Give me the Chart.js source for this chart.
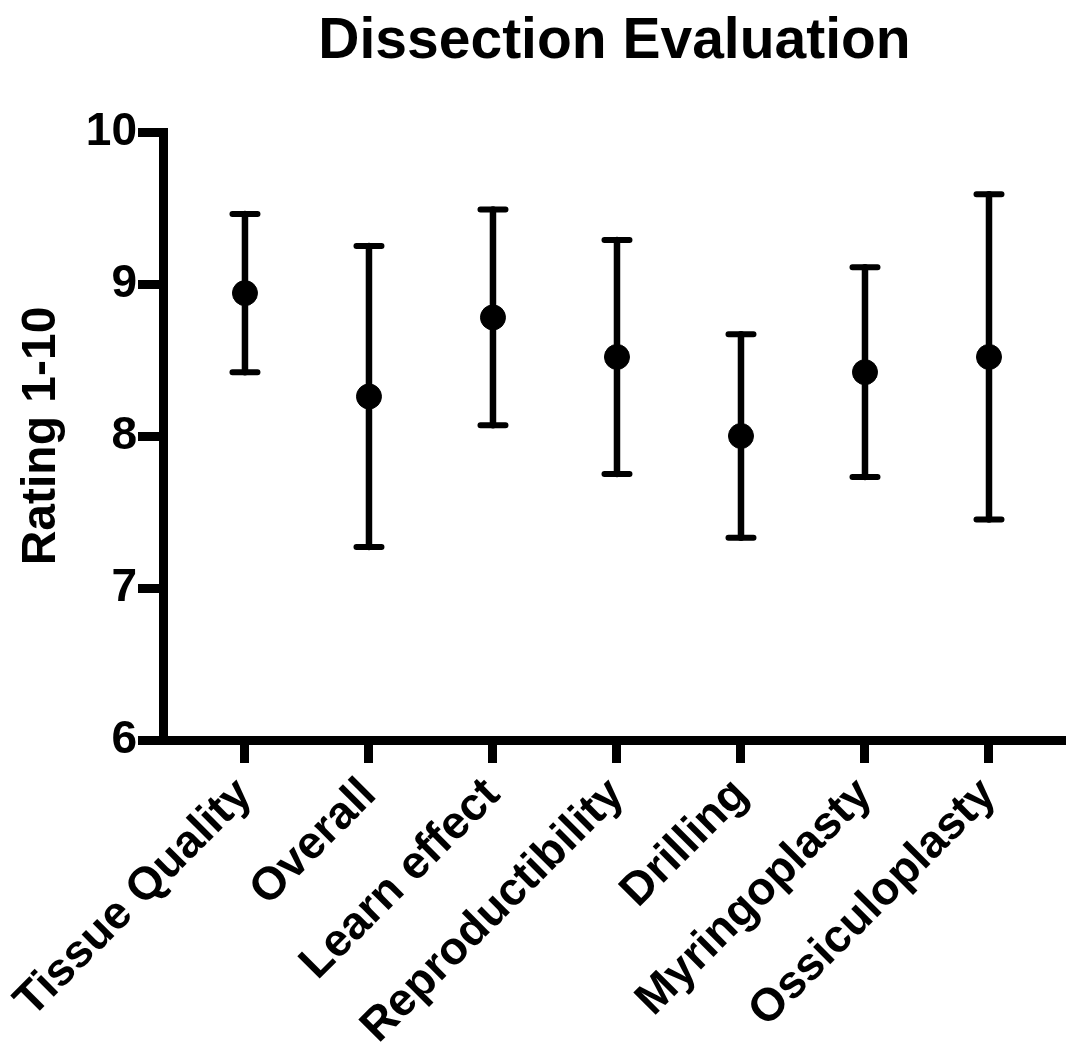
<!DOCTYPE html>
<html>
<head>
<meta charset="utf-8">
<title>Dissection Evaluation</title>
<script src="https://cdn.jsdelivr.net/npm/chart.js@4"></script>
<style>
  html, body { margin: 0; padding: 0; background: #fff; }
  #wrap { width: 1066px; height: 1046px; }
</style>
</head>
<body>
<div id="wrap"><canvas id="dissection"></canvas></div>
<script>
// ---- data (mean +/- SD, rating 1-10) ----
const categories = ['Tissue Quality', 'Overall', 'Learn effect', 'Reproductibility', 'Drilling', 'Myringoplasty', 'Ossiculoplasty'];
const means = [8.94, 8.26, 8.78, 8.52, 8.00, 8.42, 8.52];
const sds   = [0.52, 0.99, 0.71, 0.77, 0.67, 0.69, 1.07];
const yTicks = [6, 7, 8, 9, 10];

const FONT = "'Liberation Sans', Arial, Helvetica, sans-serif";

// error bars: drawn from the scales, behind the dots
const errorBars = {
    id: 'errorBars',
    beforeDatasetsDraw(chart) {
        const { ctx, scales: { x, y } } = chart;
        ctx.save();
        ctx.strokeStyle = '#000';
        ctx.lineCap = 'round';
        means.forEach((m, i) => {
            const px = x.getPixelForValue(i);
            const top = y.getPixelForValue(m + sds[i]);
            const bot = y.getPixelForValue(m - sds[i]);
            ctx.lineWidth = 6.5;
            ctx.beginPath();
            ctx.moveTo(px, top);
            ctx.lineTo(px, bot);
            ctx.stroke();
            ctx.lineWidth = 6;
            ctx.beginPath();
            ctx.moveTo(px - 12.5, top);
            ctx.lineTo(px + 12.5, top);
            ctx.moveTo(px - 12.5, bot);
            ctx.lineTo(px + 12.5, bot);
            ctx.stroke();
        });
        ctx.restore();
    }
};

new Chart(document.getElementById('dissection'), {
    type: 'scatter',
    data: {
        datasets: [{
            data: means.map((m, i) => ({ x: i, y: m })),
            backgroundColor: '#000',
            borderColor: '#000',
            pointRadius: 12.5,
            pointHoverRadius: 12.5,
            showLine: false
        }]
    },
    options: {
        responsive: true,
        maintainAspectRatio: false,
        animation: false,
        layout: { padding: 0, autoPadding: false },
        plugins: {
            legend: { display: false },
            tooltip: { enabled: false },
            title: {
                display: true,
                fullSize: false,
                text: 'Dissection Evaluation',
                color: '#000',
                font: { family: FONT, size: 57, weight: 'bold' },
                padding: { top: 8, bottom: 55.6 }
            }
        },
        scales: {
            x: {
                type: 'linear',
                min: -0.661,
                max: 6.621,
                afterBuildTicks(scale) {
                    scale.ticks = categories.map((c, i) => ({ value: i }));
                },
                afterFit(scale) { scale.height = 306; },
                ticks: {
                    callback: (v) => categories[v],
                    minRotation: 45,
                    maxRotation: 45,
                    autoSkip: false,
                    padding: 5,
                    color: '#000',
                    font: { family: FONT, size: 46, weight: 'bold' }
                },
                grid: {
                    drawOnChartArea: false,
                    drawTicks: true,
                    tickLength: 23,
                    tickWidth: 9,
                    tickColor: '#000'
                },
                border: { display: true, color: '#000', width: 9 }
            },
            y: {
                min: 6,
                max: 10,
                afterBuildTicks(scale) {
                    scale.ticks = yTicks.map(v => ({ value: v }));
                },
                afterFit(scale) { scale.width = 163; },
                ticks: {
                    padding: 1,
                    color: '#000',
                    font: { family: FONT, size: 46, weight: 'bold' }
                },
                grid: {
                    drawOnChartArea: false,
                    drawTicks: true,
                    tickLength: 25,
                    tickWidth: 9,
                    tickColor: '#000'
                },
                border: { display: true, color: '#000', width: 9 },
                title: {
                    display: true,
                    text: 'Rating 1-10',
                    color: '#000',
                    font: { family: FONT, size: 48, weight: 'bold' },
                    padding: { top: 13, bottom: 0 }
                }
            }
        }
    },
    plugins: [errorBars]
});
</script>
</body>
</html>
